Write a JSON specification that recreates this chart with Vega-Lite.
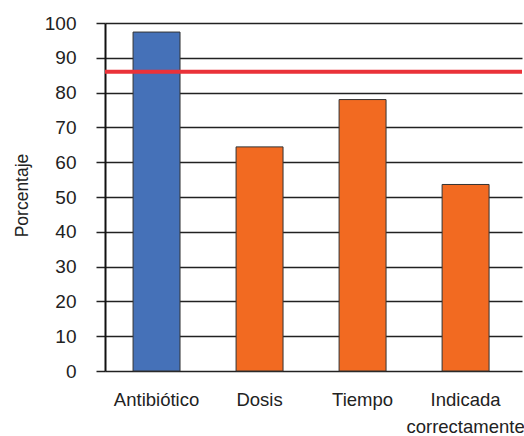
{
  "$schema": "https://vega.github.io/schema/vega-lite/v6.json",
  "width": 417,
  "height": 348,
  "autosize": {"type": "none"},
  "padding": {"left": 105, "top": 23, "right": 2, "bottom": 65},
  "background": "white",
  "config": {
    "view": {"stroke": null},
    "font": "Liberation Sans"
  },
  "datasets": {
    "bars": [
      {"categoria": "Antibiótico", "porcentaje": 97.4, "grupo": "a"},
      {"categoria": "Dosis", "porcentaje": 64.4, "grupo": "b"},
      {"categoria": "Tiempo", "porcentaje": 78.0, "grupo": "b"},
      {"categoria": "Indicada correctamente", "porcentaje": 53.6, "grupo": "b"}
    ],
    "ref": [{"porcentaje": 86}]
  },
  "encoding": {
    "y": {
      "field": "porcentaje",
      "type": "quantitative",
      "scale": {"domain": [0, 100], "nice": false},
      "axis": {
        "title": "Porcentaje",
        "titleFontSize": 17.5,
        "titleFontWeight": "normal",
        "titleColor": "#222222",
        "titleAngle": -90,
        "titleX": -83,
        "titleY": 172,
        "titleAlign": "center",
        "titleBaseline": "middle",
        "values": [0, 10, 20, 30, 40, 50, 60, 70, 80, 90, 100],
        "labelOverlap": false,
        "grid": true,
        "gridColor": "#222222",
        "gridWidth": 1.5,
        "gridOpacity": 1,
        "domainColor": "#111111",
        "domainWidth": 2,
        "tickColor": "#222222",
        "tickWidth": 1.5,
        "tickSize": 9,
        "labelFontSize": 19,
        "labelColor": "#222222",
        "labelPadding": 20
      }
    }
  },
  "layer": [
    {
      "data": {"name": "bars"},
      "mark": {"type": "bar", "stroke": "#333333", "strokeWidth": 1},
      "encoding": {
        "x": {
          "field": "categoria",
          "type": "nominal",
          "sort": null,
          "scale": {"paddingInner": 0.544, "paddingOuter": 0.296, "align": 0.46},
          "axis": {
            "title": null,
            "labelAngle": 0,
            "domain": false,
            "ticks": false,
            "labelFontSize": 18.5,
            "labelColor": "#222222",
            "labelPadding": 19,
            "labelLineHeight": 27,
            "labelOverlap": false,
            "labelBound": false,
            "labelExpr": "split(datum.label, ' ')"
          }
        },
        "color": {
          "field": "grupo",
          "type": "nominal",
          "scale": {"domain": ["a", "b"], "range": ["#4571B8", "#F26A21"]},
          "legend": null
        }
      }
    },
    {
      "data": {"name": "ref"},
      "mark": {"type": "rule", "color": "#EA3239", "strokeWidth": 4},
      "encoding": {}
    }
  ]
}
